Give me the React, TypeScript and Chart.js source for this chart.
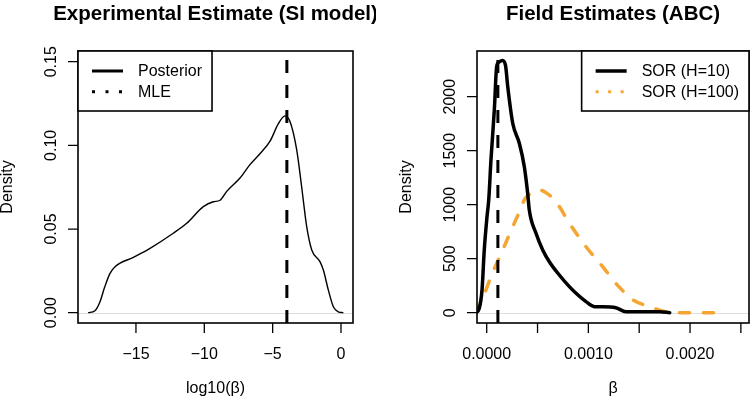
import React, { useEffect, useRef } from "react";
import { Chart, registerables } from "chart.js";

Chart.register(...registerables);

const FONT = '"Liberation Sans", Arial, Helvetica, sans-serif';
const ORANGE = "#F4A532";

// ---------- Left panel: Experimental Estimate (SI model) ----------
const siLogBeta = [-18.5, -18.0, -17.63, -17.3, -16.9, -16.53, -15.19, -13.97, -12.27, -11.29, -10.07, -9.34, -8.85, -8.36, -7.39, -6.66, -5.93, -5.19, -4.59, -4.1, -3.73, -3.24, -2.88, -2.76, -2.51, -2.14, -1.54, -1.29, -0.93, -0.56, -0.2, 0.17];
const siDensity = [0, 0.0012, 0.0066, 0.015, 0.0235, 0.0275, 0.0331, 0.0385, 0.0475, 0.0534, 0.0634, 0.0663, 0.0672, 0.0725, 0.0805, 0.0885, 0.0950, 0.1025, 0.1128, 0.1176, 0.1142, 0.0973, 0.0753, 0.0673, 0.0514, 0.0375, 0.0305, 0.0255, 0.0136, 0.0036, 0.0005, 0];
const siMleLog = -3.96;
const siXTicks = [-15, -10, -5, 0];
const siXTickLabels = ["\u221215", "\u221210", "\u22125", "0"];
const siYTicks = [0, 0.05, 0.1, 0.15];
const siYTickLabels = ["0.00", "0.05", "0.10", "0.15"];
const siLegendLabels = ["Posterior", "MLE"];

// ---------- Right panel: Field Estimates (ABC) ----------
const h10Beta = [-0.000105, -0.000073, -0.000046, -0.000024, 0.000003, 0.00002, 0.000042, 0.000075, 0.000098, 0.00012, 0.000155, 0.000185, 0.000207, 0.000256, 0.000321, 0.00037, 0.000403, 0.000419, 0.000485, 0.000551, 0.000616, 0.000714, 0.000813, 0.000879, 0.000977, 0.001059, 0.00114, 0.00127, 0.00137, 0.00153, 0.0017, 0.0018];
const h10Density = [0, 41, 210, 580, 889, 1044, 1414, 1877, 2280, 2320, 2335, 2290, 2093, 1754, 1569, 1352, 1106, 951, 735, 581, 472, 349, 241, 180, 102, 56, 55, 46, 9, 9, 9, 0];
const h100Beta = [-0.000105, -0.00004, 0.000042, 0.000157, 0.000256, 0.000337, 0.00037, 0.00045, 0.000517, 0.0006, 0.000682, 0.000813, 0.000977, 0.00114, 0.0013, 0.00144, 0.0016, 0.00176, 0.00193, 0.00224];
const h100Density = [0, 133, 333, 580, 796, 967, 1044, 1115, 1136, 1100, 1028, 828, 611, 426, 241, 118, 56, 9, 0, 0];
const abcMleBeta = 0.00011;
const abcXTicks = [0, 0.0005, 0.001, 0.0015, 0.002, 0.0025];
const abcXTickLabels = ["0.0000", "", "0.0010", "", "0.0020", ""];
const abcYTicks = [0, 500, 1000, 1500, 2000];
const abcYTickLabels = ["0", "500", "1000", "1500", "2000"];
const abcLegendLabels = ["SOR (H=10)", "SOR (H=100)"];

type LegendItem = { label: string; color: string; width: number; dash: number[] };

type PanelSpec = {
  title: string;
  xTitle: string;
  yTitle: string;
  xTicks: number[];
  xTickLabels: string[];
  yTicks: number[];
  yTickLabels: string[];
  legend: LegendItem[];
  legendPos: "topleft" | "topright";
};

function rPlugin(spec: PanelSpec) {
  return {
    id: "rstyle",
    beforeDatasetsDraw(chart: any) {
      const ctx = chart.ctx;
      const { left, right } = chart.chartArea;
      const y0 = Math.round(chart.scales.y.getPixelForValue(0)) + 0.5;
      ctx.save();
      ctx.strokeStyle = "#dddddd";
      ctx.lineWidth = 1;
      ctx.beginPath();
      ctx.moveTo(left, y0);
      ctx.lineTo(right, y0);
      ctx.stroke();
      ctx.restore();
    },
    afterDraw(chart: any) {
      const ctx = chart.ctx;
      const { left, right, top, bottom } = chart.chartArea;
      const xs = chart.scales.x;
      const ys = chart.scales.y;
      ctx.save();
      ctx.strokeStyle = "#000";
      ctx.fillStyle = "#000";
      ctx.setLineDash([]);
      // box
      ctx.lineWidth = 1.6;
      ctx.strokeRect(left, top, right - left, bottom - top);
      // ticks
      ctx.lineWidth = 1.3;
      ctx.beginPath();
      spec.xTicks.forEach((t) => {
        const px = xs.getPixelForValue(t);
        ctx.moveTo(px, bottom);
        ctx.lineTo(px, bottom + 10);
      });
      spec.yTicks.forEach((t) => {
        const py = ys.getPixelForValue(t);
        ctx.moveTo(left, py);
        ctx.lineTo(left - 10, py);
      });
      ctx.stroke();
      ctx.font = `16px ${FONT}`;
      ctx.textAlign = "center";
      ctx.textBaseline = "alphabetic";
      spec.xTicks.forEach((t, i) => {
        const lab = spec.xTickLabels[i];
        if (lab) ctx.fillText(lab, xs.getPixelForValue(t), bottom + 36);
      });
      spec.yTicks.forEach((t, i) => {
        const py = ys.getPixelForValue(t);
        ctx.save();
        ctx.translate(left - 22.5, py);
        ctx.rotate(-Math.PI / 2);
        ctx.fillText(spec.yTickLabels[i], 0, 0);
        ctx.restore();
      });
      // axis titles
      ctx.fillText(spec.xTitle, (left + right) / 2, bottom + 70);
      ctx.save();
      ctx.translate(left - 66, (top + bottom) / 2);
      ctx.rotate(-Math.PI / 2);
      ctx.fillText(spec.yTitle, 0, 0);
      ctx.restore();
      // main title
      ctx.font = `bold 20.5px ${FONT}`;
      ctx.fillText(spec.title, (left + right) / 2, 19.5);
      // legend
      ctx.font = `16px ${FONT}`;
      const maxW = Math.max(...spec.legend.map((l) => ctx.measureText(l.label).width));
      const w = 60 + maxW + 10;
      const h = 60;
      const x0 = spec.legendPos === "topleft" ? left : right - w;
      ctx.fillStyle = "#fff";
      ctx.fillRect(x0, top, w, h);
      ctx.fillStyle = "#000";
      ctx.lineWidth = 1.6;
      ctx.strokeRect(x0, top, w, h);
      ctx.textAlign = "left";
      ctx.textBaseline = "middle";
      spec.legend.forEach((l, i) => {
        const cy = top + 20 + i * 20.7;
        ctx.save();
        ctx.strokeStyle = l.color;
        ctx.lineWidth = l.width;
        ctx.lineCap = "butt";
        ctx.setLineDash(l.dash);
        ctx.beginPath();
        ctx.moveTo(x0 + 14, cy);
        ctx.lineTo(x0 + 45, cy);
        ctx.stroke();
        ctx.restore();
        ctx.fillText(l.label, x0 + 60, cy + 1);
      });
      ctx.restore();
    },
  };
}

function pts(xs: number[], ys: number[]) {
  return xs.map((x, i) => ({ x, y: ys[i] }));
}

function useChart(
  ref: React.RefObject<HTMLCanvasElement | null>,
  datasets: any[],
  xr: [number, number],
  yr: [number, number],
  padding: { left: number; right: number; top: number; bottom: number },
  spec: PanelSpec
) {
  useEffect(() => {
    if (!ref.current) return;
    const chart = new Chart(ref.current, {
      type: "scatter",
      data: { datasets },
      options: {
        animation: false,
        responsive: false,
        devicePixelRatio: 1,
        events: [],
        layout: { padding },
        plugins: {
          legend: { display: false },
          tooltip: { enabled: false },
          title: { display: false },
        },
        scales: {
          x: { type: "linear", display: false, min: xr[0], max: xr[1] },
          y: { type: "linear", display: false, min: yr[0], max: yr[1] },
        },
      },
      plugins: [rPlugin(spec)],
    } as any);
    return () => chart.destroy();
  }, []);
}

function LeftPanel() {
  const ref = useRef<HTMLCanvasElement>(null);
  const yr: [number, number] = [-0.00616, 0.1564];
  const datasets = [
    {
      label: "MLE",
      data: [
        { x: siMleLog, y: yr[0] },
        { x: siMleLog, y: yr[1] },
      ],
      showLine: true,
      pointRadius: 0,
      borderColor: "#000",
      borderWidth: 3,
      borderDash: [13, 12],
      borderCapStyle: "butt",
      order: 0,
    },
    {
      label: siLegendLabels[0],
      data: pts(siLogBeta, siDensity),
      showLine: true,
      pointRadius: 0,
      borderColor: "#000",
      borderWidth: 1.4,
      cubicInterpolationMode: "monotone",
      order: 1,
    },
  ];
  useChart(ref, datasets, [-19.24, 0.878], yr, { left: 78, right: 23, top: 51, bottom: 78 }, {
    title: "Experimental Estimate (SI model)",
    xTitle: "log10(\u03B2)",
    yTitle: "Density",
    xTicks: siXTicks,
    xTickLabels: siXTickLabels,
    yTicks: siYTicks,
    yTickLabels: siYTickLabels,
    legend: [
      { label: siLegendLabels[0], color: "#000", width: 3, dash: [] },
      { label: siLegendLabels[1], color: "#000", width: 3, dash: [3, 10.5] },
    ],
    legendPos: "topleft",
  });
  return <canvas ref={ref} width={376} height={401} style={{ position: "absolute", left: 0, top: 0 }} />;
}

function RightPanel() {
  const ref = useRef<HTMLCanvasElement>(null);
  const yr: [number, number] = [-95.4, 2423];
  const datasets = [
    {
      label: "MLE",
      data: [
        { x: abcMleBeta, y: yr[0] },
        { x: abcMleBeta, y: yr[1] },
      ],
      showLine: true,
      pointRadius: 0,
      borderColor: "#000",
      borderWidth: 3,
      borderDash: [13, 12],
      borderCapStyle: "butt",
      order: 0,
    },
    {
      label: abcLegendLabels[0],
      data: pts(h10Beta, h10Density),
      showLine: true,
      pointRadius: 0,
      borderColor: "#000",
      borderWidth: 3.5,
      cubicInterpolationMode: "monotone",
      borderCapStyle: "round",
      borderJoinStyle: "round",
      order: 1,
    },
    {
      label: abcLegendLabels[1],
      data: pts(h100Beta, h100Density),
      showLine: true,
      pointRadius: 0,
      borderColor: ORANGE,
      borderWidth: 3.5,
      borderDash: [10, 14],
      borderCapStyle: "round",
      cubicInterpolationMode: "monotone",
      order: 2,
    },
  ];
  useChart(ref, datasets, [-0.0000954, 0.00258], yr, { left: 101, right: 3, top: 51, bottom: 78 }, {
    title: "Field Estimates (ABC)",
    xTitle: "\u03B2",
    yTitle: "Density",
    xTicks: abcXTicks,
    xTickLabels: abcXTickLabels,
    yTicks: abcYTicks,
    yTickLabels: abcYTickLabels,
    legend: [
      { label: abcLegendLabels[0], color: "#000", width: 3.5, dash: [] },
      { label: abcLegendLabels[1], color: ORANGE, width: 3, dash: [3, 9.5] },
    ],
    legendPos: "topright",
  });
  return <canvas ref={ref} width={376} height={401} style={{ position: "absolute", left: 376, top: 0 }} />;
}

export default function App() {
  return (
    <div style={{ position: "fixed", left: 0, top: 0, width: 752, height: 401, background: "#fff", overflow: "hidden" }}>
      <LeftPanel />
      <RightPanel />
    </div>
  );
}
